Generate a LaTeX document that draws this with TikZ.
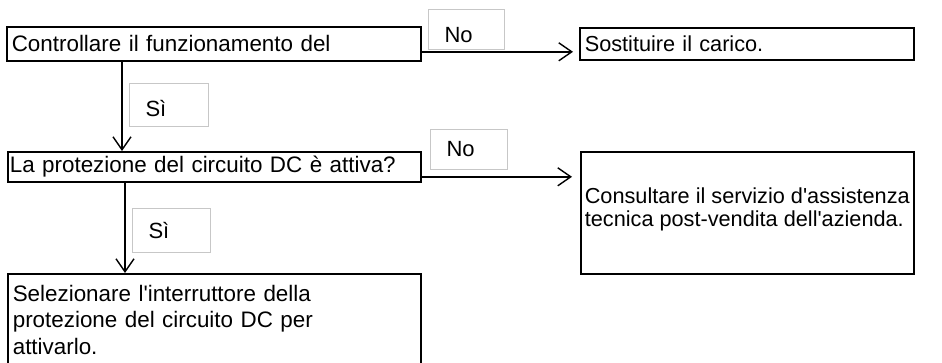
\documentclass[tikz,border=0pt]{standalone}
\usepackage{fontspec}
\setmainfont{Liberation Sans}
\usetikzlibrary{positioning,arrows.meta}

\begin{document}
\begin{tikzpicture}[x=1pt,y=-1pt,
    box/.style={draw,line width=1.6pt,anchor=north west,inner xsep=5pt,inner ysep=0pt,
      align=left,font=\fontsize{22.4}{26.5}\selectfont},
    answer/.style={draw=black!22,line width=1pt,anchor=north west,inner xsep=16pt,inner ysep=0pt,
      align=left,font=\fontsize{22}{26.5}\selectfont},
    flow/.style={line width=1.4pt,-{Straight Barb[length=13pt,width=18pt]}}]
  \useasboundingbox (0,0) rectangle (942,362);
  % boxes
  \node[box,text width=404pt,minimum height=34pt] (check)  at (6,26)   {Controllare il funzionamento del};
  \node[box,text width=324pt,minimum height=32pt,font=\fontsize{21.7}{26}\selectfont] (load) at (579,27) {Sostituire il carico.};
  \node[box,text width=409pt,minimum height=30pt,inner xsep=2pt] (prot) at (7,151) {La protezione del circuito DC è attiva?};
  \node[box,minimum width=333pt,minimum height=122pt,inner xsep=0pt,text depth=12pt,
    font=\fontsize{21.7}{23}\selectfont] (serv) at (580,151)
    {Consultare il servizio d\textquotesingle assistenza\\tecnica post-vendita dell\textquotesingle azienda.};
  \node[box,text width=403pt,minimum height=92pt] (switch) at (7,273)
    {Selezionare l\textquotesingle interruttore della\\protezione del circuito DC per\\attivarlo.};
  % answers
  \node[answer,text width=44pt,minimum height=40pt,text height=26pt] (no1) at (428,9) {No};
  \node[answer,text width=47pt,minimum height=43pt,text height=24pt] (yes1) at (129,83) {Sì};
  \node[answer,text width=45pt,minimum height=40pt] (no2)  at (430,129) {No};
  \node[answer,text width=46pt,minimum height=44pt] (yes2) at (132,208) {Sì};
  % connectors
  \draw[flow,shorten >=6pt] ([yshift=-8pt]check.east) -- ([yshift=-8pt]check.east -| load.west);
  \draw[flow] ([xshift=116pt]check.south west) -- ([xshift=116pt]check.south west |- prot.north);
  \draw[flow,shorten >=8pt] ([yshift=-10pt]prot.east) -- ([yshift=-10pt]prot.east -| serv.west);
  \draw[flow] ([xshift=118pt]prot.south west) -- ([xshift=118pt]prot.south west |- switch.north);
\end{tikzpicture}
\end{document}
